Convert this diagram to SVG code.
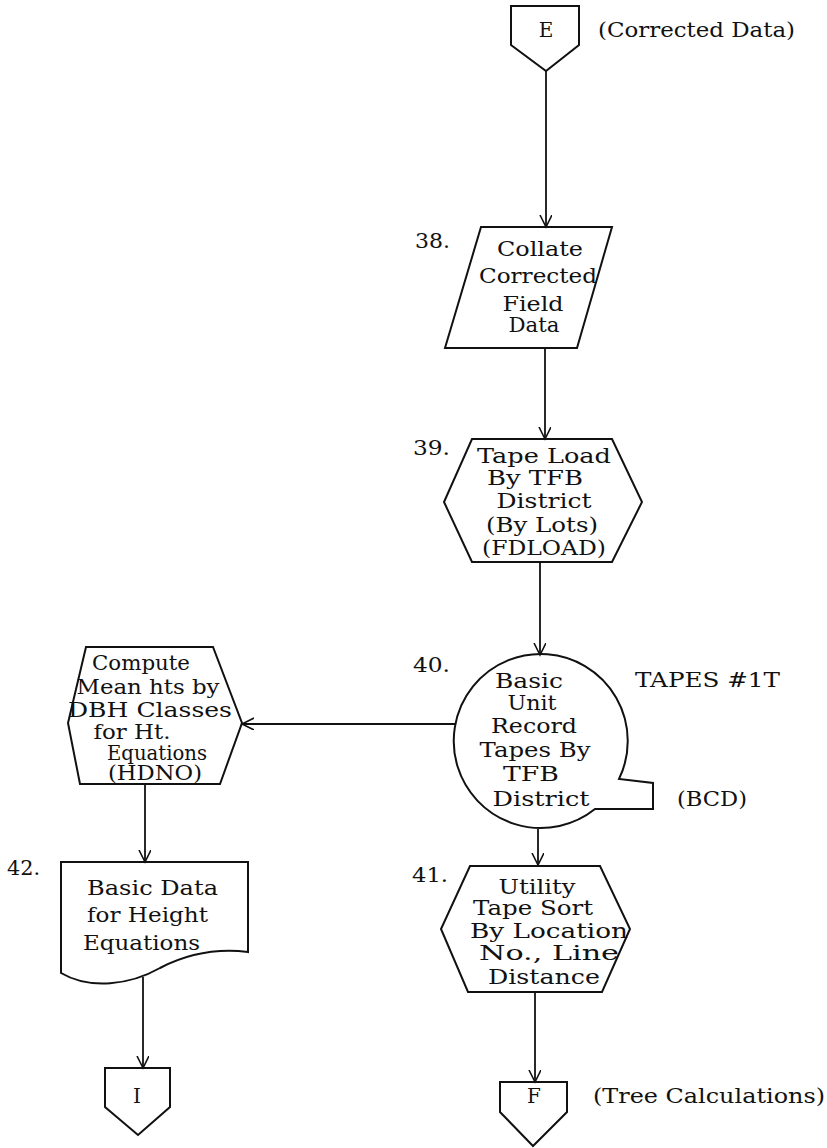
<svg xmlns="http://www.w3.org/2000/svg" width="827" height="1148" viewBox="0 0 827 1148">
<style>
.s{fill:none;stroke:#111;stroke-width:2;stroke-linejoin:miter}
.c{fill:none;stroke:#111;stroke-width:1.8}
text{font-family:"DejaVu Serif","Liberation Serif",serif;font-size:21px;fill:#111}
.m{text-anchor:middle}
.sm{font-size:20px}
</style>
<defs>
<marker id="ah" markerWidth="14" markerHeight="14" refX="12" refY="6" orient="auto" markerUnits="userSpaceOnUse">
<path d="M0,0 L12,6 L0,12" fill="none" stroke="#111" stroke-width="1.6"/>
</marker>
</defs>
<rect width="827" height="1148" fill="#fff"/>
<g id="connectors">
<path class="c" d="M546,71 V227" marker-end="url(#ah)"/>
<path class="c" d="M545,348 V439" marker-end="url(#ah)"/>
<path class="c" d="M540,562 V655" marker-end="url(#ah)"/>
<path class="c" d="M455,724 H242" marker-end="url(#ah)"/>
<path class="c" d="M145,784 V862" marker-end="url(#ah)"/>
<path class="c" d="M538,829 V865" marker-end="url(#ah)"/>
<path class="c" d="M143,977 V1068" marker-end="url(#ah)"/>
<path class="c" d="M535,992 V1082" marker-end="url(#ah)"/>
</g>
<g id="nodeE">
<path class="s" d="M511,6 H579 V45 L546,71 L511,45 Z"/>
<text class="m sm" x="546" y="37">E</text>
<text x="598" y="37" textLength="197" lengthAdjust="spacingAndGlyphs">(Corrected Data)</text>
</g>
<g id="node38">
<path class="s" d="M481,227 H612 L577,348 H445 Z"/>
<text x="415" y="248" textLength="35" lengthAdjust="spacingAndGlyphs">38.</text>
<text class="m" x="540" y="256" textLength="86" lengthAdjust="spacingAndGlyphs">Collate</text>
<text class="m" x="538" y="283" textLength="118" lengthAdjust="spacingAndGlyphs">Corrected</text>
<text class="m" x="533" y="311" textLength="61" lengthAdjust="spacingAndGlyphs">Field</text>
<text class="m" x="534" y="332" textLength="51" lengthAdjust="spacingAndGlyphs">Data</text>
</g>
<g id="node39">
<path class="s" d="M472,439 H612 L642,502 L612,562 H472 L444,502 Z"/>
<text x="413" y="455" textLength="37" lengthAdjust="spacingAndGlyphs">39.</text>
<text class="m" x="544" y="463" textLength="134" lengthAdjust="spacingAndGlyphs">Tape Load</text>
<text class="m" x="535" y="485" textLength="96" lengthAdjust="spacingAndGlyphs">By TFB</text>
<text class="m" x="544" y="508" textLength="95" lengthAdjust="spacingAndGlyphs">District</text>
<text class="m" x="542" y="532" textLength="112" lengthAdjust="spacingAndGlyphs">(By Lots)</text>
<text class="m" x="544" y="555" textLength="124" lengthAdjust="spacingAndGlyphs">(FDLOAD)</text>
</g>
<g id="node40">
<path class="s" d="M619,779 A87,87 0 1,0 595,809 L653,809 L653,783 Z"/>
<text x="413" y="672" textLength="37" lengthAdjust="spacingAndGlyphs">40.</text>
<text class="m" x="529" y="688" textLength="68" lengthAdjust="spacingAndGlyphs">Basic</text>
<text class="m" x="532" y="710" textLength="49" lengthAdjust="spacingAndGlyphs">Unit</text>
<text class="m" x="534" y="733" textLength="86" lengthAdjust="spacingAndGlyphs">Record</text>
<text class="m" x="535" y="757" textLength="111" lengthAdjust="spacingAndGlyphs">Tapes By</text>
<text class="m" x="531" y="781" textLength="56" lengthAdjust="spacingAndGlyphs">TFB</text>
<text class="m" x="541" y="806" textLength="97" lengthAdjust="spacingAndGlyphs">District</text>
<text x="635" y="687" textLength="145" lengthAdjust="spacingAndGlyphs">TAPES #1T</text>
<text x="677" y="806" textLength="70" lengthAdjust="spacingAndGlyphs">(BCD)</text>
</g>
<g id="nodeHDNO">
<path class="s" d="M86,647 H213 L242,723 L220,784 H80 L68,723 Z"/>
<text class="m" x="141" y="670" textLength="98" lengthAdjust="spacingAndGlyphs">Compute</text>
<text class="m" x="148" y="694" textLength="143" lengthAdjust="spacingAndGlyphs">Mean hts by</text>
<text class="m" x="150" y="717" textLength="164" lengthAdjust="spacingAndGlyphs">DBH Classes</text>
<text class="m" x="132" y="739" textLength="77" lengthAdjust="spacingAndGlyphs">for Ht.</text>
<text class="m" x="157" y="760" textLength="100" lengthAdjust="spacingAndGlyphs">Equations</text>
<text class="m" x="155" y="780" textLength="94" lengthAdjust="spacingAndGlyphs">(HDNO)</text>
</g>
<g id="node42">
<path class="s" d="M61,862 H248 V952 C215,948 185,955 160,968 C130,985 90,990 61,973 Z"/>
<text x="7" y="875" textLength="33" lengthAdjust="spacingAndGlyphs">42.</text>
<text x="87" y="895" textLength="131" lengthAdjust="spacingAndGlyphs">Basic Data</text>
<text x="87" y="922" textLength="121" lengthAdjust="spacingAndGlyphs">for Height</text>
<text x="83" y="950" textLength="117" lengthAdjust="spacingAndGlyphs">Equations</text>
</g>
<g id="node41">
<path class="s" d="M470,866 H600 L630,929 L602,992 H468 L441,929 Z"/>
<text x="412" y="882" textLength="36" lengthAdjust="spacingAndGlyphs">41.</text>
<text class="m" x="537" y="894" textLength="77" lengthAdjust="spacingAndGlyphs">Utility</text>
<text class="m" x="533" y="915" textLength="120" lengthAdjust="spacingAndGlyphs">Tape Sort</text>
<text class="m" x="549" y="938" textLength="158" lengthAdjust="spacingAndGlyphs">By Location</text>
<text class="m" x="549" y="960" textLength="140" lengthAdjust="spacingAndGlyphs">No., Line</text>
<text class="m" x="544" y="984" textLength="112" lengthAdjust="spacingAndGlyphs">Distance</text>
</g>
<g id="nodeI">
<path class="s" d="M105,1068 H170 V1107 L138,1135 L105,1107 Z"/>
<text class="m sm" x="137" y="1103">I</text>
</g>
<g id="nodeF">
<path class="s" d="M500,1082 H567 V1112 L533,1146 L500,1112 Z"/>
<text class="m sm" x="534" y="1103">F</text>
<text x="593" y="1103" textLength="232" lengthAdjust="spacingAndGlyphs">(Tree Calculations)</text>
</g>
</svg>
